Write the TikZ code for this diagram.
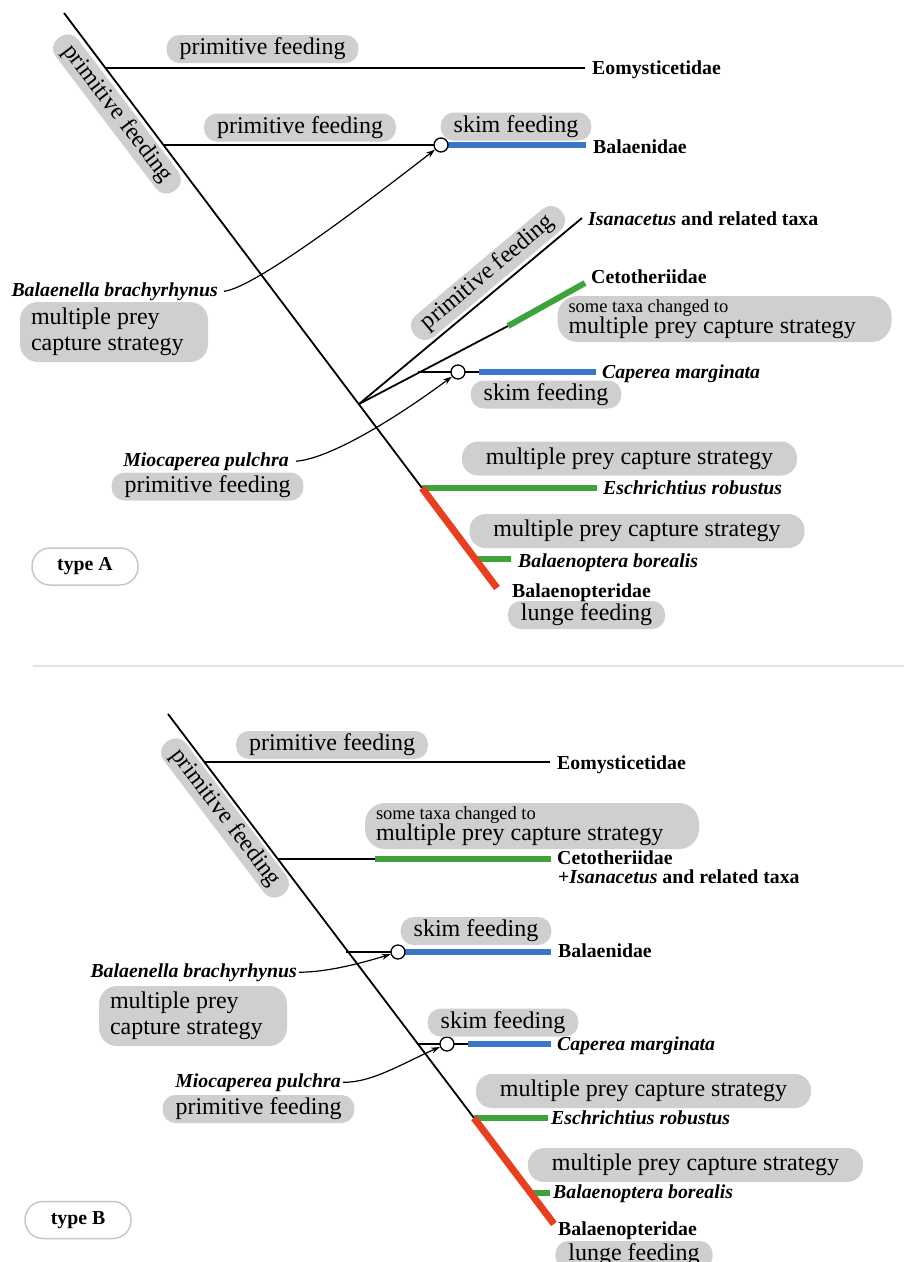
\documentclass[tikz,border=0pt]{standalone}
\usepackage{fontspec}
\setmainfont{Liberation Serif}
\usetikzlibrary{arrows.meta}
\definecolor{pillgray}{HTML}{CFCFCF}
\definecolor{sepgray}{HTML}{E2E2E2}
\definecolor{tgray}{HTML}{C8C8C8}
\definecolor{skimblue}{HTML}{3A76C4}
\definecolor{mpgreen}{HTML}{3FA33C}
\definecolor{lungered}{HTML}{E8401E}
\begin{document}
\begin{tikzpicture}[x=1pt,y=-1pt,
  pill/.style={fill=pillgray, rounded corners=13pt, inner xsep=13pt, inner ysep=2.5pt, text height=17pt, text depth=6pt, font=\fontsize{24}{26}\selectfont},
  mpill/.style={pill, inner ysep=5.5pt, rounded corners=16pt, minimum width=335pt},
  pilltwo/.style={fill=pillgray, rounded corners=18pt, inner xsep=11pt, inner ysep=0pt, align=flush left},
  taxon/.style={inner sep=0pt, font=\fontsize{19.8}{22}\selectfont\bfseries},
  ital/.style={inner sep=0pt, font=\fontsize{19.8}{22}\selectfont\bfseries\itshape},
  trunk/.style={line width=1.8pt},
  branch/.style={line width=1.8pt},
  skim/.style={line width=6pt, draw=skimblue},
  mpc/.style={line width=6pt, draw=mpgreen},
  lunge/.style={line width=7pt, draw=lungered},
  knot/.style={circle, draw, fill=white, line width=1.3pt, minimum size=14pt, inner sep=0pt},
  pointer/.style={line width=1.2pt, -{Stealth[length=9pt,width=6pt]}},
  typebox/.style={draw=tgray, line width=1.5pt, fill=white, rounded corners=18pt, minimum width=106pt, minimum height=37pt, inner sep=0pt, font=\fontsize{19.8}{22}\selectfont\bfseries}
]
\useasboundingbox (0,0) rectangle (904,1262);

% ================= TYPE A =================
\coordinate (tA0) at (64,13);
\coordinate (tA1) at (105,68);
\coordinate (tA2) at (163,145);
\coordinate (tA3) at (359,404);
\coordinate (tA4) at (422,488);
\coordinate (tA5) at (475,559);
\coordinate (tA6) at (497,588);
\coordinate (eomA) at (585,68);
\coordinate (kA1c) at (441,145);
\coordinate (balA) at (586,145);
\coordinate (isaA) at (582,218);
\coordinate (cetAg) at (508,326);
\coordinate (cetA) at (585,283);
\coordinate (capA0) at (418,372);
\coordinate (kA2c) at (458,372);
\coordinate (capAb) at (479,372);
\coordinate (capA) at (596,372);
\coordinate (escA) at (597,488);
\coordinate (borA) at (511,559);

\draw[branch] (tA1) -- (eomA);
\draw[branch] (tA2) -- (kA1c);
\draw[skim] (kA1c) -- (balA);
\draw[branch] (tA3) -- (isaA);
\draw[branch] (tA3) -- (cetAg);
\draw[mpc] (cetAg) -- (cetA);
\draw[branch] (capA0) -- (capAb);
\draw[skim] (capAb) -- (capA);
\draw[mpc] (tA4) -- (escA);
\draw[mpc] (tA5) -- (borA);
\draw[trunk] (tA0) -- (tA4);
\draw[lunge] (tA4) -- (tA6);
\node[knot] (kA1) at (kA1c) {};
\node[knot] (kA2) at (kA2c) {};

\node[pill] (pfA1) at (262.5,49) {primitive feeding};
\node[pill] (pfA2) at (300,127.5) {primitive feeding};
\node[pill] (skA1) at (516,126.5) {skim feeding};
\node[pill, rotate=-52.8] (pfAd) at (117,114) {primitive feeding};
\node[pill, rotate=40] (pfAi) at (488,273) {primitive feeding};
\node[pilltwo, text width=312pt, minimum height=46pt, rounded corners=20pt, font=\fontsize{24}{20}\selectfont] (cmA) at (724.5,319) {{\fontsize{18.5}{20}\selectfont some taxa changed to}\\multiple prey capture strategy};
\node[pilltwo, text width=166pt, minimum height=60pt, font=\fontsize{24}{26}\selectfont] (mpA) at (114,332) {multiple prey\\capture strategy};
\node[pill] (skA2) at (546,394.5) {skim feeding};
\node[pill] (pfA3) at (207.5,486.5) {primitive feeding};
\node[mpill] (mcA1) at (629.5,458.5) {multiple prey capture strategy};
\node[mpill] (mcA2) at (637,531) {multiple prey capture strategy};
\node[pill] (lfA) at (586.5,615) {lunge feeding};
\node[typebox] (typeA) at (85,566.5) {type A};

\node[taxon, anchor=base west] (eomAl) at (592,74) {Eomysticetidae};
\node[taxon, anchor=base west] (balAl) at (593,153) {Balaenidae};
\node[taxon, anchor=base west] (isaAl) at (588,225) {\textit{Isanacetus} and related taxa};
\node[taxon, anchor=base west] (cetAl) at (591,283) {Cetotheriidae};
\node[ital, anchor=base west] (capAl) at (602,378) {Caperea marginata};
\node[ital, anchor=base west] (escAl) at (603,494) {Eschrichtius robustus};
\node[ital, anchor=base west] (borAl) at (518,567) {Balaenoptera borealis};
\node[taxon, anchor=base west] (bptAl) at (512,597) {Balaenopteridae};
\node[ital, anchor=base east] (bbA) at (218,296) {Balaenella brachyrhynus};
\node[ital, anchor=base east] (mpcA) at (289,466) {Miocaperea pulchra};

\draw[pointer] ([xshift=6pt]bbA.east) .. controls (255,288) and (370,200) .. (kA1);
\draw[pointer] ([xshift=7pt]mpcA.east) .. controls (335,458) and (410,408) .. (kA2);

% separator
\coordinate (sep0) at (33,666);
\coordinate (sep1) at (904,666);
\draw[sepgray, line width=1.8pt] (sep0) -- (sep1);

% ================= TYPE B =================
\coordinate (tB0) at (168,714);
\coordinate (tB1) at (204,762);
\coordinate (tB2) at (278,859);
\coordinate (tB3) at (346,952);
\coordinate (tB4) at (417,1044);
\coordinate (tB5) at (474,1118);
\coordinate (tB6) at (531,1193);
\coordinate (tB7) at (554,1224);
\coordinate (eomB) at (550,762);
\coordinate (cetBg) at (375,859);
\coordinate (cetB) at (551,859);
\coordinate (kB1c) at (398,952);
\coordinate (balB) at (551,952);
\coordinate (kB2c) at (447,1044);
\coordinate (capBb) at (468,1044);
\coordinate (capB) at (551,1044);
\coordinate (escB) at (548,1118);
\coordinate (borB) at (550,1193);

\draw[branch] (tB1) -- (eomB);
\draw[branch] (tB2) -- (cetBg);
\draw[mpc] (cetBg) -- (cetB);
\draw[branch] (tB3) -- (kB1c);
\draw[skim] (kB1c) -- (balB);
\draw[branch] (tB4) -- (capBb);
\draw[skim] (capBb) -- (capB);
\draw[mpc] (tB5) -- (escB);
\draw[mpc] (tB6) -- (borB);
\draw[trunk] (tB0) -- (tB5);
\draw[lunge] (tB5) -- (tB7);
\node[knot] (kB1) at (kB1c) {};
\node[knot] (kB2) at (kB2c) {};

\node[pill] (pfB1) at (332,745) {primitive feeding};
\node[pill, rotate=-52.8] (pfBd) at (225,818) {primitive feeding};
\node[pilltwo, text width=312pt, minimum height=46pt, rounded corners=20pt, font=\fontsize{24}{20}\selectfont] (cmB) at (532,826) {{\fontsize{18.5}{20}\selectfont some taxa changed to}\\multiple prey capture strategy};
\node[pill] (skB1) at (476,931) {skim feeding};
\node[pilltwo, text width=166pt, minimum height=60pt, font=\fontsize{24}{26}\selectfont] (mpB) at (193,1016) {multiple prey\\capture strategy};
\node[pill] (skB2) at (503,1022.5) {skim feeding};
\node[pill] (pfB3) at (258.5,1109) {primitive feeding};
\node[mpill] (mcB1) at (643.5,1091) {multiple prey capture strategy};
\node[mpill] (mcB2) at (695.5,1165) {multiple prey capture strategy};
\node[pill] (lfB) at (634,1255) {lunge feeding};
\node[typebox] (typeB) at (78,1220) {type B};

\node[taxon, anchor=base west] (eomBl) at (557,769) {Eomysticetidae};
\node[taxon, anchor=base west] (cetBl) at (557,864) {Cetotheriidae};
\node[taxon, anchor=base west] (isaBl) at (558,883) {+\textit{Isanacetus} and related taxa};
\node[taxon, anchor=base west] (balBl) at (558,957) {Balaenidae};
\node[ital, anchor=base west] (capBl) at (557,1050) {Caperea marginata};
\node[ital, anchor=base west] (escBl) at (551,1124) {Eschrichtius robustus};
\node[ital, anchor=base west] (borBl) at (553,1198) {Balaenoptera borealis};
\node[taxon, anchor=base west] (bptBl) at (558,1235) {Balaenopteridae};
\node[ital, anchor=base east] (bbB) at (297,977) {Balaenella brachyrhynus};
\node[ital, anchor=base east] (mpcB) at (341,1087) {Miocaperea pulchra};

\draw[pointer] ([xshift=2pt]bbB.east) .. controls (330,972) and (365,962) .. (kB1);
\draw[pointer] ([xshift=2pt]mpcB.east) .. controls (372,1083) and (405,1062) .. (kB2);
\end{tikzpicture}
\end{document}
